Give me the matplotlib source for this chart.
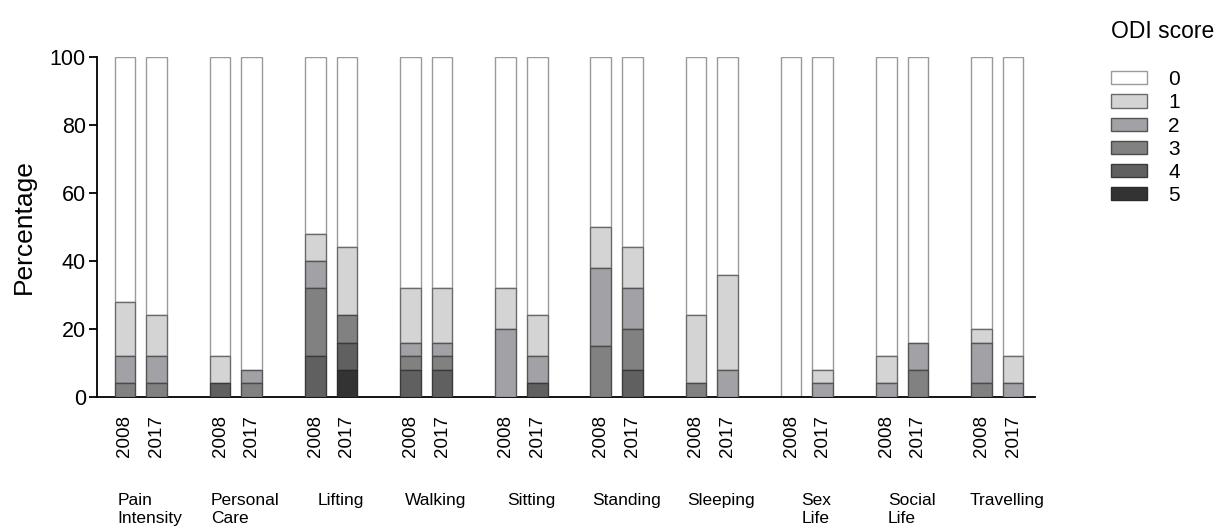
#!/usr/bin/env python3
"""ODI item scores by domain, 2008 vs 2017 (stacked percentage bars)."""

import matplotlib.pyplot as plt
from matplotlib.patches import Patch
from matplotlib.transforms import blended_transform_factory

plt.rcParams["font.family"] = ["Liberation Sans", "DejaVu Sans"]

DOMAINS = ["Pain\nIntensity", "Personal\nCare", "Lifting", "Walking", "Sitting",
           "Standing", "Sleeping", "Sex\nLife", "Social\nLife", "Travelling"]
YEARS = ["2008", "2017"]
SCORES = ["0", "1", "2", "3", "4", "5"]

# percentage per bar, order: domain x (2008, 2017)
SCORE_0 = [72, 76, 88, 92, 52, 56, 68, 68, 68, 76, 50, 56, 76, 64, 100, 92, 88, 84, 80, 88]
SCORE_1 = [16, 12, 8, 0, 8, 20, 16, 16, 12, 12, 12, 12, 20, 28, 0, 4, 8, 0, 4, 8]
SCORE_2 = [8, 8, 0, 4, 8, 0, 4, 4, 20, 8, 23, 12, 0, 8, 0, 4, 4, 8, 12, 4]
SCORE_3 = [4, 4, 0, 4, 20, 8, 4, 4, 0, 0, 15, 12, 4, 0, 0, 0, 0, 8, 4, 0]
SCORE_4 = [0, 0, 4, 0, 12, 8, 8, 8, 0, 4, 0, 8, 0, 0, 0, 0, 0, 0, 0, 0]
SCORE_5 = [0, 0, 0, 0, 0, 8, 0, 0, 0, 0, 0, 0, 0, 0, 0, 0, 0, 0, 0, 0]

FILLS = ["#ffffff", "#d4d4d4", "#a2a2a6", "#818181", "#606060", "#333333"]
EDGES = ["#9a9a9a", "#6a6a6a", "#555555", "#4a4a4a", "#3a3a3a", "#2a2a2a"]


def main() -> None:
    series = [SCORE_0, SCORE_1, SCORE_2, SCORE_3, SCORE_4, SCORE_5]
    xs = []
    for i in range(len(DOMAINS)):
        xs += [3 * i, 3 * i + 1]

    fig = plt.figure(figsize=(12.18, 5.32), dpi=100)
    ax = fig.add_axes([0.0796, 0.2538, 0.7704, 0.6392])

    # stack order from bottom: 5, 4, 3, 2, 1, 0 ; draw white first so edges of filled sit on top
    bottoms = {}
    running = [0] * len(xs)
    for s in range(5, -1, -1):
        bottoms[s] = list(running)
        running = [r + v for r, v in zip(running, series[s])]
    for s in range(6):
        vals = series[s]
        keep = [k for k, v in enumerate(vals) if v > 0]
        ax.bar([xs[k] for k in keep], [vals[k] for k in keep], width=0.65,
               bottom=[bottoms[s][k] for k in keep], color=FILLS[s],
               edgecolor=EDGES[s], linewidth=1.0, zorder=2 + s)

    ax.set_xlim(-0.88, 28.7)
    ax.set_ylim(0, 100)
    ax.set_yticks([0, 20, 40, 60, 80, 100])
    ax.tick_params(axis="y", labelsize=15.5, length=6, width=1.3, pad=2)
    ax.set_xticks(xs)
    ax.set_xticklabels(YEARS * len(DOMAINS), rotation=90, fontsize=13.5)
    ax.tick_params(axis="x", length=0, pad=13)
    for side in ["top", "right"]:
        ax.spines[side].set_visible(False)
    for side in ["left", "bottom"]:
        ax.spines[side].set_linewidth(1.3)
    ax.set_ylabel("Percentage", fontsize=19, labelpad=10)

    trans = blended_transform_factory(ax.transData, fig.transFigure)
    for i, name in enumerate(DOMAINS):
        ax.text(3 * i + 0.8, 0.074, name, transform=trans, ha="center", va="top",
                multialignment="left", fontsize=12.5, linespacing=1.3)

    fig.text(0.912, 0.94, "ODI score", fontsize=16.5, ha="left", va="center")
    handles = [Patch(facecolor=FILLS[s], edgecolor=EDGES[s], linewidth=1.0) for s in range(6)]
    fig.legend(handles, SCORES, loc="upper left", bbox_to_anchor=(0.912, 0.868),
               frameon=False, fontsize=15, labelspacing=0.2, handlelength=1.75,
               handleheight=0.6, handletextpad=1.0, borderaxespad=0, borderpad=0)

    fig.savefig("out.png", dpi=100)
    plt.close(fig)


if __name__ == "__main__":
    main()
